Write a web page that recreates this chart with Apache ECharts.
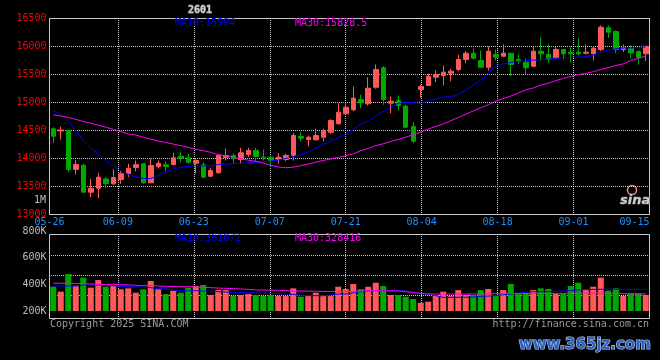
<!DOCTYPE html>
<html><head><meta charset="utf-8">
<script src="https://cdn.jsdelivr.net/npm/echarts@6/dist/echarts.min.js"></script>
<style>html,body{margin:0;padding:0;background:#000}#c{width:660px;height:360px}</style>
</head><body><div id="c"></div>
<script>
const dates = ['05-26','05-27','05-28','05-29','05-30','06-03','06-04','06-05','06-06',
'06-09','06-10','06-11','06-12','06-13','06-16','06-17','06-18','06-19','06-20',
'06-23','06-24','06-25','06-26','06-27','06-30','07-01','07-02','07-03','07-04',
'07-07','07-08','07-09','07-10','07-11','07-14','07-15','07-16','07-17','07-18',
'07-21','07-22','07-23','07-24','07-25','07-28','07-29','07-30','07-31','08-01',
'08-04','08-05','08-06','08-07','08-08','08-11','08-12','08-13','08-14','08-15',
'08-18','08-19','08-20','08-21','08-22','08-25','08-26','08-27','08-28','08-29',
'09-01','09-02','09-03','09-04','09-05','09-08','09-09','09-10','09-11','09-12','09-15'];
const tickDates = ['05-26','06-09','06-23','07-07','07-21','08-04','08-18','09-01','09-15'];

const opens = [14530,14490,14500,13804,13880,13398,13470,13635,13548,13625,
13727,13840,13905,13566,13855,13887,13893,14041,14013,13916,
13887,13684,13745,14023,14054,13982,14071,14143,14023,14023,
13982,13982,14054,14393,14339,14334,14380,14470,14620,14798,
14870,15054,14977,15273,15620,14988,15036,14934,14571,15232,
15304,15452,15482,15523,15589,15768,15880,15750,15630,15857,
15827,15880,15768,15720,15648,15916,15857,15798,15946,15898,
15898,15880,15870,15946,16334,16268,15946,15970,15911,15870];
const closes = [14398,14510,13804,13893,13398,13470,13666,13550,13661,13727,
13826,13890,13566,13875,13915,13857,14013,14005,13934,13964,
13666,13786,14054,14054,13995,14102,14143,14036,13995,13964,
14023,14054,14411,14363,14380,14411,14500,14679,14827,14916,
15077,14995,15255,15589,15054,15023,14946,14559,14309,15286,
15470,15500,15541,15559,15768,15880,15791,15630,15916,15809,
15880,15679,15738,15620,15916,15870,15768,15946,15870,15870,
15870,15898,15970,16345,16255,15946,15977,15887,15809,16000];
const lows = [14273,14340,13755,13714,13390,13309,13291,13470,13530,13548,
13666,13770,13550,13560,13820,13768,13875,13934,13905,13737,
13650,13666,13730,13964,13916,13905,14023,13952,13964,13862,
13905,13952,13964,14304,14214,14321,14304,14441,14607,14768,
14845,14898,14946,15245,14959,14809,14857,14541,14273,15084,
15304,15362,15304,15380,15559,15702,15768,15620,15571,15750,
15809,15470,15691,15500,15630,15750,15702,15780,15768,15720,
15839,15857,15750,15916,16155,15880,15898,15791,15673,15737];
const highs = [14559,14570,14510,13977,13900,13637,13744,13666,13804,13780,
13905,13965,13905,13995,13965,13946,14095,14112,14084,14005,
13934,13834,14080,14173,14095,14191,14191,14191,14161,14054,
14095,14084,14452,14470,14411,14530,14530,14702,14988,15005,
15286,15137,15452,15679,15648,15107,15125,14959,14648,15321,
15512,15571,15661,15601,15857,15916,15959,15929,16000,15946,
16036,15880,15857,15780,16000,16166,16036,16000,15959,15988,
16148,16036,16000,16375,16375,16286,16036,16018,15929,16018];

const volumes = [382000,345000,477000,390000,450000,375000,432000,382000,387000,363000,
370000,337000,363000,425000,363000,327000,352000,337000,375000,387000,
395000,320000,357000,357000,312000,320000,327000,320000,312000,320000,
312000,312000,370000,307000,312000,337000,312000,312000,382000,365000,
402000,363000,382000,412000,387000,320000,320000,307000,290000,262000,
270000,320000,345000,312000,357000,320000,320000,357000,365000,320000,
357000,402000,327000,337000,357000,370000,365000,327000,327000,387000,
412000,363000,382000,450000,352000,370000,312000,333000,333000,320000];

const ma10 = [14850,14800,14660,14490,14330,14190,14080,13970,13860,13780,
13715,13670,13645,13640,13700,13765,13815,13845,13860,13875,
13865,13870,13893,13900,13908,13916,13922,13930,13940,13955,
13972,14000,14035,14068,14120,14185,14250,14310,14375,14445,
14520,14610,14675,14760,14840,14920,14985,15003,15000,14980,
15025,15065,15098,15104,15140,15220,15310,15400,15540,15645,
15690,15715,15735,15745,15755,15762,15778,15790,15800,15805,
15808,15818,15845,15900,15935,15960,15972,15975,15980,15994];
const ma30 = [14780,14760,14735,14700,14660,14630,14595,14560,14520,14480,
14440,14420,14380,14345,14315,14285,14258,14230,14200,14165,
14140,14110,14070,14050,14020,13995,13970,13948,13920,13880,
13850,13835,13845,13872,13900,13935,13965,13990,14020,14050,
14085,14140,14180,14230,14263,14305,14340,14380,14425,14470,
14525,14575,14615,14675,14730,14790,14850,14905,14960,15025,
15070,15115,15170,15225,15260,15310,15345,15390,15430,15465,
15500,15520,15550,15590,15620,15660,15690,15750,15790,15828.5];
const volMa10 = [387000,387000,387000,387000,395000,395000,395000,392000,390000,385000,
382000,382000,380000,375000,368000,365000,358000,352000,352000,352000,
350000,348000,345000,342000,340000,340000,338000,335000,333000,332000,
330000,328000,325000,318000,316000,315000,315000,320000,327000,328000,
335000,345000,350000,352000,352000,352000,352000,350000,340000,330000,
327000,315000,302000,302000,303000,303000,305000,310000,312000,315000,
322000,327000,335000,340000,345000,345000,345000,348000,350000,352000,
358000,360000,362000,363000,363000,363000,363000,362000,362000,361072];
const volMa30 = [408000,408000,408000,407000,405000,403000,400000,400000,400000,398000,
396000,393000,390000,390000,388000,385000,383000,382000,382000,380000,
378000,375000,372000,370000,368000,365000,362000,358000,357000,357000,
355000,353000,350000,350000,349000,348000,347000,346000,345000,346000,
348000,350000,352000,352000,352000,351000,350000,345000,338000,332000,
328000,327000,327000,327000,327000,327000,328000,328000,330000,330000,
332000,332000,332000,332000,332000,332000,332000,332000,332000,333000,
333000,333000,333000,333000,333000,332000,330000,329000,328000,328416];

const UP = '#ff5858', DOWN = '#00a800';
const GRIDC = '#c8c8c8';
const MONO = 'DejaVu Sans Mono';
const isTick = (i, v) => tickDates.indexOf(v) >= 0;
const last = a => a[a.length - 1];
const dotted = {color: GRIDC, type: [1, 1], dashOffset: 0.5, width: 1};

const chart = echarts.init(document.getElementById('c'), null, {renderer: 'canvas'});
const L = 49.5, W = 600;
const txt = (text, left, top, color, extra) => ({
  text, left, top, padding: 0,
  textStyle: Object.assign({color, fontSize: 10, fontFamily: MONO, fontWeight: 'normal'}, extra || {})
});
chart.setOption({
  backgroundColor: '#000',
  animation: false,
  title: [
    txt('2601', 188, 5, '#d0d0d0', {fontWeight: 'bold', textBorderColor: '#777', textBorderWidth: 1}),
    txt('MA10:' + last(ma10), 175, 18, '#0000ff'),
    txt('MA30:' + last(ma30), 295, 18, '#ff00ff'),
    txt('MA10:' + last(volMa10), 175, 233, '#0000ff'),
    txt('MA30:' + last(volMa30), 295, 233, '#ff00ff'),
    txt('1M', 34, 195, '#bdbdbd'),
    txt('Copyright 2025 SINA.COM', 50, 319, '#9a9a9a'),
    Object.assign(txt('http://finance.sina.com.cn', null, 319, '#9a9a9a'), {right: 11}),
    txt('sina', 620, 194, '#cfcfcf', {fontFamily: 'DejaVu Sans', fontSize: 13, fontWeight: 'bold', fontStyle: 'italic', textBorderColor: '#555', textBorderWidth: 1}),
    Object.assign(txt('www.365jz.com', null, 338, '#2f62c0', {fontFamily: 'DejaVu Sans', fontSize: 15, fontWeight: 'bold', textBorderColor: '#b8cde8', textBorderWidth: 1.2}), {right: 8})
  ],
  graphic: [{type: 'circle', shape: {cx: 632, cy: 190, r: 4.5}, style: {fill: 'none', stroke: '#f08a8a', lineWidth: 1.5}}],
  grid: [
    {left: L, width: W, top: 18.5, height: 196, show: true, borderColor: GRIDC, borderWidth: 1, backgroundColor: 'transparent'},
    {left: L, width: W, top: 231, height: 80, show: false},
    {left: L, width: W, top: 234.5, height: 84, show: true, borderColor: GRIDC, borderWidth: 1, backgroundColor: 'transparent'},
    {left: L, width: W, top: 255, height: 40, show: false}
  ],
  xAxis: [
    {type: 'category', gridIndex: 0, data: dates, boundaryGap: true, show: false},
    {type: 'category', gridIndex: 0, data: dates, boundaryGap: false, position: 'bottom',
      axisLine: {show: false}, axisTick: {show: false},
      axisLabel: {interval: isTick, color: '#1e90ff', fontFamily: MONO, fontSize: 10, margin: 3, alignMaxLabel: 'right', showMaxLabel: true, showMinLabel: true},
      splitLine: {show: true, interval: isTick, lineStyle: dotted}},
    {type: 'category', gridIndex: 1, data: dates, boundaryGap: true, show: false},
    {type: 'category', gridIndex: 2, data: dates, boundaryGap: false, position: 'bottom',
      axisLine: {show: false}, axisTick: {show: false}, axisLabel: {show: false},
      splitLine: {show: true, interval: isTick, lineStyle: dotted}},
    {type: 'category', gridIndex: 3, data: dates, show: false}
  ],
  yAxis: [
    {type: 'value', gridIndex: 0, min: 13000, max: 16500, interval: 500,
      axisLine: {show: false}, axisTick: {show: false},
      axisLabel: {color: '#ff0000', fontFamily: MONO, fontSize: 10, margin: 3, padding: [0, 0, 4, 0], formatter: v => String(v)},
      splitLine: {show: true, lineStyle: dotted}},
    {type: 'value', gridIndex: 1, min: 200000, max: 800000, interval: 200000,
      axisLine: {show: false}, axisTick: {show: false}, splitLine: {show: false},
      axisLabel: {color: '#bdbdbd', fontFamily: MONO, fontSize: 10, margin: 3, formatter: v => (v / 1000) + 'K'}},
    {type: 'value', gridIndex: 2, min: 0, max: 1, show: false},
    {type: 'value', gridIndex: 3, min: 0, max: 2, interval: 1,
      axisLine: {show: false}, axisTick: {show: false}, axisLabel: {show: false},
      splitLine: {show: true, lineStyle: dotted}}
  ],
  series: [
    {type: 'candlestick', xAxisIndex: 0, yAxisIndex: 0, barWidth: 5,
      data: opens.map((o, i) => [o, closes[i], lows[i], highs[i]]),
      itemStyle: {color: UP, color0: DOWN, borderColor: UP, borderColor0: DOWN, borderWidth: 1}},
    {type: 'line', xAxisIndex: 0, yAxisIndex: 0, data: ma10, showSymbol: false, z: 5,
      lineStyle: {color: '#0000ff', width: 1}},
    {type: 'line', xAxisIndex: 0, yAxisIndex: 0, data: ma30, showSymbol: false, z: 5,
      lineStyle: {color: '#ff00ff', width: 1}},
    {type: 'bar', xAxisIndex: 2, yAxisIndex: 1, barWidth: 6, data: volumes,
      itemStyle: {color: p => closes[p.dataIndex] >= opens[p.dataIndex] ? UP : DOWN}},
    {type: 'line', xAxisIndex: 2, yAxisIndex: 1, data: volMa10, showSymbol: false, z: 5,
      lineStyle: {color: '#0000ff', width: 1}},
    {type: 'line', xAxisIndex: 2, yAxisIndex: 1, data: volMa30, showSymbol: false, z: 5,
      lineStyle: {color: '#ff00ff', width: 1}}
  ]
});
</script></body></html>
